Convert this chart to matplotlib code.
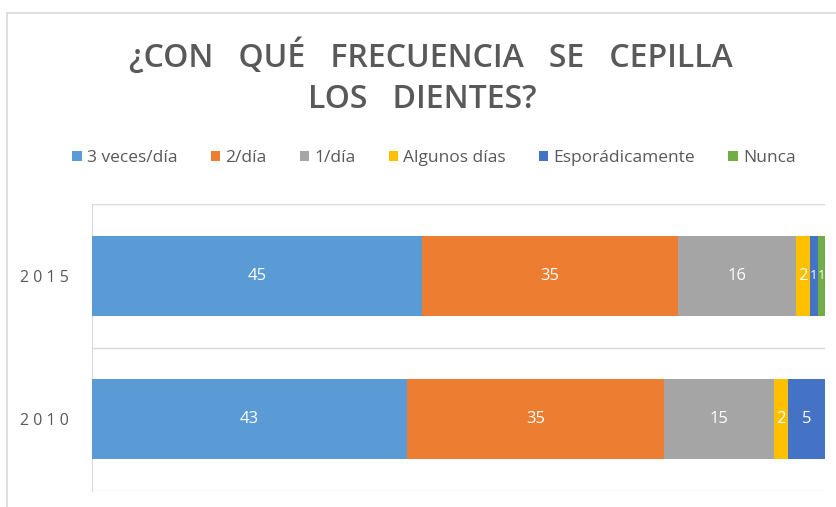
import matplotlib
matplotlib.use("Agg")
import matplotlib.pyplot as plt
from matplotlib.patches import Rectangle, Patch

# ── Data ──────────────────────────────────────────────────────────────────────
years = ["2010", "2015"]
series = ["3 veces/día", "2/día", "1/día", "Algunos días", "Esporádicamente", "Nunca"]
values_2010 = [43, 35, 15, 2, 5, 0]
values_2015 = [45, 35, 16, 2, 1, 1]
colors = ["#5B9BD5", "#ED7D31", "#A5A5A5", "#FFC000", "#4472C4", "#70AD47"]

W, H = 837, 507
fig = plt.figure(figsize=(W / 100, H / 100), dpi=100)
fig.patch.set_facecolor("white")

# outer chart border
fig.patches.append(Rectangle((7 / W, -0.1), 1.2, (H - 13) / H + 0.1,
                             transform=fig.transFigure, fill=False,
                             edgecolor="#D9D9D9", lw=1.2))

ax = fig.add_axes([92 / W, (H - 491) / H, (825 - 92) / W, (491 - 204) / H])

rows = [values_2010, values_2015]
for yi, vals in enumerate(rows):
    left = 0
    for si, v in enumerate(vals):
        if v == 0:
            continue
        ax.barh(yi, v, left=left, height=0.557, color=colors[si], edgecolor="none", zorder=3)
        # tiny segments get a smaller label so neighbours don't collide
        fs = 12 if v > 1 else 9.5
        ax.text(left + v / 2, yi, str(v), ha="center", va="center",
                color="white", fontsize=fs, family="Open Sans", zorder=4)
        left += v

ax.set_xlim(0, 100)
ax.set_ylim(-0.5, 1.5)
ax.set_yticks([0, 1])
ax.set_yticklabels([" ".join(y) for y in years], color="#595959", fontsize=11.5, family="Open Sans")
ax.tick_params(axis="y", length=0, pad=17)
ax.set_xticks([])
for y in [-0.5, 0.5, 1.5]:
    ax.axhline(y, color="#D9D9D9", lw=1.0, zorder=1)
for s in ["top", "right", "bottom"]:
    ax.spines[s].set_visible(False)
ax.spines["left"].set_color("#D9D9D9")

# ── Title ─────────────────────────────────────────────────────────────────────
fig.text(431 / W, 1 - 57 / H, "¿CON   QUÉ   FRECUENCIA   SE   CEPILLA", ha="center", va="center",
         fontsize=23, fontweight="semibold", color="#595959", family="Open Sans")
fig.text(422 / W, 1 - 100 / H, "LOS   DIENTES?", ha="center", va="center",
         fontsize=23, fontweight="semibold", color="#595959", family="Open Sans")

# ── Legend ────────────────────────────────────────────────────────────────────
handles = [Patch(facecolor=c, edgecolor="none") for c in colors]
fig.legend(handles, series, loc="center", bbox_to_anchor=(434 / W, 1 - 158 / H),
           ncol=6, frameon=False, handlelength=0.55, handleheight=0.55,
           handletextpad=0.3, columnspacing=1.9, labelcolor="#595959",
           prop={"family": "Open Sans", "size": 12.5})

fig.savefig("out.png", dpi=100)
